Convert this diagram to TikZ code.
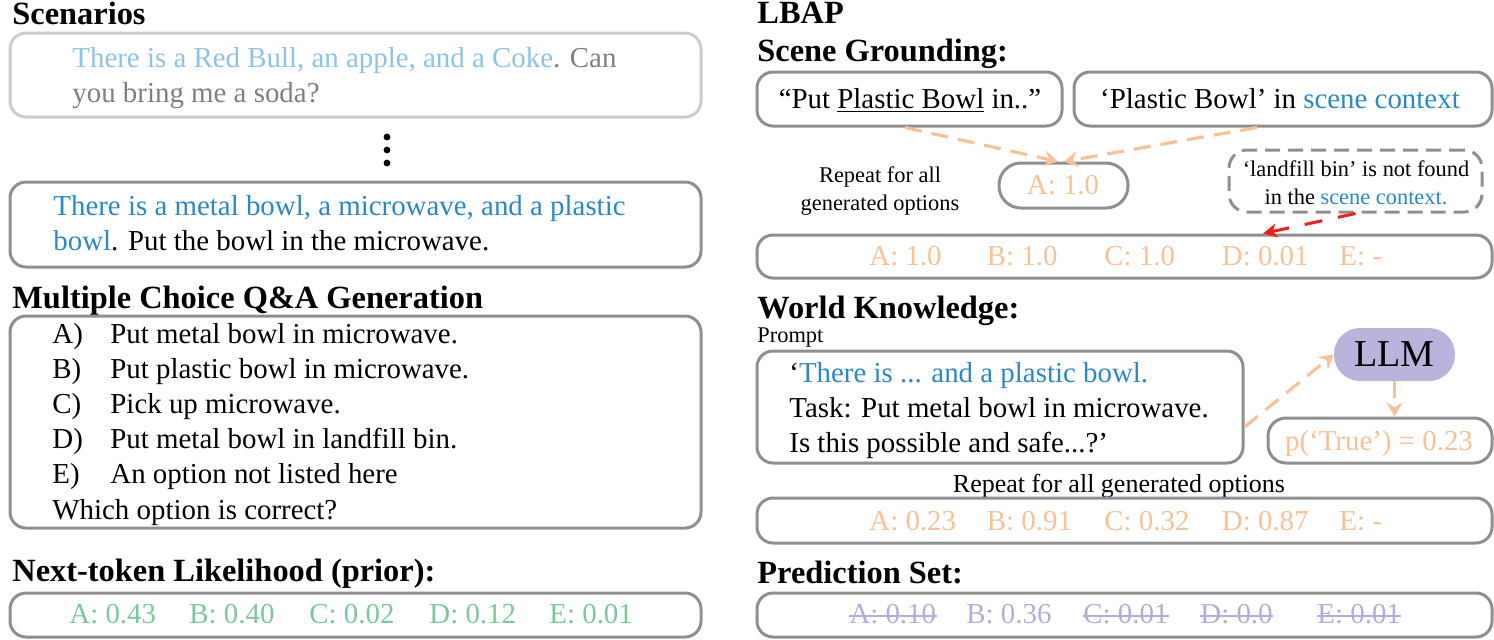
\documentclass[tikz,border=0pt]{standalone}
\usepackage{fontspec}
\setmainfont{Liberation Serif}
\usetikzlibrary{arrows.meta}
\definecolor{boxgray}{RGB}{143,143,143}
\definecolor{lightbox}{RGB}{204,204,204}
\definecolor{lblue}{RGB}{141,195,232}
\definecolor{dblue}{RGB}{43,135,200}
\definecolor{tgray}{RGB}{127,127,127}
\definecolor{orng}{RGB}{249,193,152}
\definecolor{grn}{RGB}{124,199,154}
\definecolor{purp}{RGB}{178,174,219}
\definecolor{llmfill}{RGB}{184,180,220}
\definecolor{redarrow}{RGB}{240,30,30}
\newcommand\fbody{\fontsize{14.45pt}{17.4pt}\selectfont}
\newcommand\fhead{\fontsize{16.2pt}{19pt}\selectfont\bfseries}
\newcommand\fsmall{\fontsize{11.2pt}{13.4pt}\selectfont}
\newcommand\fmid{\fontsize{13pt}{15.6pt}\selectfont}
\newcommand\fllm{\fontsize{19pt}{22pt}\selectfont}
\tikzset{
 box/.style={draw=boxgray, line width=1.5pt, rounded corners=8pt, inner sep=0pt},
 sz/.style 2 args={minimum width={#1*0.5pt}, minimum height={#2*0.5pt}},
 txt/.style={inner sep=0pt, anchor=base west, font=\fbody},
 ctxt/.style={inner sep=0pt, anchor=base, font=\fbody},
 head/.style={inner sep=0pt, anchor=base west, font=\fhead},
 oarrow/.style={draw=orng, line width=1.6pt, dash pattern=on 8.5pt off 5pt, -{Stealth[length=7pt,width=8pt,inset=2.5pt]}},
 rarrow/.style={draw=redarrow, line width=1.5pt, dash pattern=on 9pt off 8pt, -{Stealth[length=7pt,width=7pt,inset=2pt]}},
 strike/.style={draw=purp, line width=0.8pt},
 dotnode/.style={circle, fill=black, inner sep=0pt, minimum size=3.4pt},
}
\begin{document}
\begin{tikzpicture}[x=0.5pt,y=-0.5pt]
\useasboundingbox (0,0) rectangle (1494,639);
% ---------------- left column ----------------
\node[head] (hScen) at (12,24) {Scenarios};
\node[box, draw=lightbox, sz={691}{84}] (s1) at (355.5,75) {};
\node[txt] (s1a) at (72,67) {\textcolor{lblue}{There is a Red Bull, an apple, and a Coke}\textcolor{tgray}{. Can}};
\node[txt, text=tgray] (s1b) at (72,102) {you bring me a soda?};
\node[dotnode] (d1) at (387,137) {};
\node[dotnode] (d2) at (387,150) {};
\node[dotnode] (d3) at (387,163) {};
\node[box, sz={691}{85}] (s2) at (355.5,224.5) {};
\node[txt] (s2a) at (53,215) {\textcolor{dblue}{There is a metal bowl, a microwave, and a plastic}};
\node[txt] (s2b) at (53,250) {\textcolor{dblue}{bowl}. Put the bowl in the microwave.};
\node[head] (hMC) at (12,308) {Multiple Choice Q\&A Generation};
\node[box, sz={691}{212}] (mc) at (355.5,422) {};
\foreach \l/\t [count=\i] in {A)/Put metal bowl in microwave.,B)/Put plastic bowl in microwave.,C)/Pick up microwave.,D)/Put metal bowl in landfill bin.,E)/An option not listed here}{
  \node[txt] (mcl\i) at (52,{343+35.2*(\i-1)}) {\l};
  \node[txt] (mct\i) at (110,{343+35.2*(\i-1)}) {\t};
}
\node[txt] (mcq) at (52,519) {Which option is correct?};
\node[head] (hNT) at (12,581) {Next-token Likelihood (prior):};
\node[box, sz={691}{44}] (pr) at (355.5,615) {};
\foreach \t [count=\i] in {A: 0.43,B: 0.40,C: 0.02,D: 0.12,E: 0.01}
  \node[txt, text=grn] (pr\i) at ({69+120*(\i-1)},623) {\t};
% ---------------- right column ----------------
\node[head] (hL) at (757,23) {LBAP};
\node[head] (hSG) at (757,61) {Scene Grounding:};
\node[box, sz={305}{54}] (g1) at (909.5,99) {};
\node[ctxt] (g1t) at (910,108) {“Put \underline{Plastic Bowl} in..”};
\node[box, sz={418}{54}] (g2) at (1283,99) {};
\node[ctxt] (g2t) at (1280,108) {‘Plastic Bowl’ in \textcolor{dblue}{scene context}};
\node[box, rounded corners=11pt, sz={129}{45}] (pa) at (1063.5,185.5) {};
\node[ctxt, text=orng] (pat) at (1063,194) {A: 1.0};
\node[ctxt, font=\fsmall] (rep1a) at (880,182) {Repeat for all};
\node[ctxt, font=\fsmall] (rep1b) at (880,210) {generated options};
\node[box, dash pattern=on 7.5pt off 4pt, rounded corners=9pt, sz={253}{62}] (nf) at (1355.5,181) {};
\node[ctxt, font=\fsmall] (nf1) at (1356,176.5) {‘landfill bin’ is not found};
\node[ctxt, font=\fsmall] (nf2) at (1356,204.5) {in the \textcolor{dblue}{scene context.}};
\node[box, sz={735}{43}] (sg) at (1124.5,256.5) {};
\foreach \t [count=\i] in {A: 1.0,B: 1.0,C: 1.0,D: 0.01,E: -}
  \node[txt, text=orng] (sg\i) at ({869+117.5*(\i-1)},265) {\t};
\draw[oarrow] ([xshift=-2.25pt]g1.south) -- ([xshift=-2.75pt]pa.north);
\draw[oarrow] ([xshift=-13pt]g2.south) -- ([xshift=0.25pt]pa.north);
\draw[rarrow] (nf.south) -- ([xshift=69.25pt]sg.north);
\node[head] (hWK) at (757,318) {World Knowledge:};
\node[txt, font=\fsmall] (pl) at (757,342) {Prompt};
\node[box, sz={486}{112}] (pb) at (1000,407) {};
\node[txt] (pb1) at (789,382) {‘\textcolor{dblue}{There is ... and a plastic bowl.}};
\node[txt] (pb2) at (789,417) {Task: Put metal bowl in microwave.};
\node[txt] (pb3) at (789,452) {Is this possible and safe...?’};
\node[fill=llmfill, rounded corners=13pt, sz={121}{53}, inner sep=0pt, font=\fllm] (llm) at (1394.5,354.5) {LLM};
\node[box, rounded corners=9pt, sz={224}{45}] (pt) at (1380,440.5) {};
\node[ctxt, text=orng] (ptt) at (1379,450) {p(‘True’) = 0.23};
\draw[oarrow] ([yshift=-10pt]pb.east) -- (llm.west);
\draw[oarrow] (llm.south) -- (llm.south |- pt.north);
\node[ctxt, font=\fmid] (rep2) at (1119,492) {Repeat for all generated options};
\node[box, sz={735}{45}] (wk) at (1124.5,520.5) {};
\foreach \t [count=\i] in {A: 0.23,B: 0.91,C: 0.32,D: 0.87,E: -}
  \node[txt, text=orng] (wk\i) at ({869+117.5*(\i-1)},530) {\t};
\node[head] (hPS) at (757,583) {Prediction Set:};
\node[box, sz={735}{44}] (ps) at (1124.5,615) {};
\foreach \t [count=\i] in {A: 0.10,B: 0.36,C: 0.01,D: 0.0,E: 0.01}
  \node[txt, text=purp] (ps\i) at ({849+117*(\i-1)},623) {\t};
\foreach \i in {1,3,4,5}
  \draw[strike] ([yshift=3.5pt]ps\i.base west) -- ([yshift=3.5pt]ps\i.base east);
\end{tikzpicture}
\end{document}
